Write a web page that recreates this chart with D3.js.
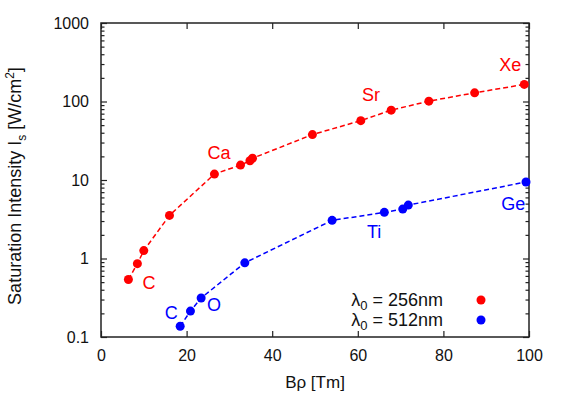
<!DOCTYPE html>
<html>
<head>
<meta charset="utf-8">
<script src="https://cdn.jsdelivr.net/npm/d3@7"></script>
<style>
  body { margin: 0; background: #fff; }
  text { font-family: "Liberation Sans", Arial, sans-serif; }
</style>
</head>
<body>
<div id="chart"></div>
<script>
// Chart data
var redX = [6.4, 8.5, 10.0, 16.0, 26.5, 32.6, 34.8, 35.4, 49.4, 60.7, 67.8, 76.6, 87.3, 98.9];
var redY = [0.54, 0.86, 1.26, 3.54, 11.9, 15.5, 17.6, 18.9, 37.9, 57, 77.6, 101, 129, 165];
var blueX = [18.5, 20.9, 23.4, 33.6, 54.0, 66.2, 70.5, 71.8, 99.3];
var blueY = [0.137, 0.214, 0.314, 0.88, 3.06, 3.87, 4.26, 4.79, 9.43];

var redLabels = [{t: "C", x: 11.2, y: 0.484}, {t: "Ca", x: 27.6, y: 22}, {t: "Sr", x: 63.1, y: 122}, {t: "Xe", x: 95.6, y: 295}];
var blueLabels = [{t: "C", x: 16.4, y: 0.2}, {t: "O", x: 26.4, y: 0.253}, {t: "Ti", x: 63.8, y: 2.17}, {t: "Ge", x: 96.3, y: 4.94}];

var xTicks = [0, 20, 40, 60, 80, 100];
var yTicks = [0.1, 1, 10, 100, 1000];
var yTickLabels = ["0.1", "1", "10", "100", "1000"];

var svgWidth = 562, svgHeight = 395;
var margin = {top: 23, right: 33, bottom: 58, left: 101};
var chartWidth = svgWidth - margin.left - margin.right;
var chartHeight = svgHeight - margin.top - margin.bottom;

var svg = d3.select("#chart").append("svg")
  .attr("width", svgWidth)
  .attr("height", svgHeight);

var g = svg.append("g")
  .attr("transform", `translate(${margin.left}, ${margin.top})`);

var x = d3.scaleLinear().domain([0, 100]).range([0, chartWidth]);
var y = d3.scaleLog().domain([0.1, 1000]).range([chartHeight, 0]);

// minor log ticks
var minor = [];
[0.1, 1, 10, 100].forEach(function(d) {
  for (var k = 2; k <= 9; k++) minor.push(d * k);
});

function styleAxis(sel) {
  sel.select(".domain").remove();
  sel.selectAll("line").attr("stroke", "#222").attr("stroke-width", 1.2);
  sel.selectAll("text").attr("font-size", "16px").attr("fill", "#111")
    .style("font-family", "'Liberation Sans', Arial, sans-serif");
}

// bottom axis (ticks inward)
g.append("g").attr("transform", `translate(0, ${chartHeight})`)
  .call(d3.axisBottom(x).tickValues(xTicks).tickSizeInner(-6).tickSizeOuter(0).tickPadding(13).tickFormat(d3.format("d")))
  .call(styleAxis);
// top axis
g.append("g")
  .call(d3.axisTop(x).tickValues(xTicks).tickSizeInner(-6).tickSizeOuter(0).tickFormat(""))
  .call(styleAxis);
// left axis
g.append("g")
  .call(d3.axisLeft(y).tickValues(yTicks).tickSizeInner(-6).tickSizeOuter(0).tickPadding(12)
    .tickFormat(function(d, i) { return yTickLabels[i]; }))
  .call(styleAxis);
g.append("g")
  .call(d3.axisLeft(y).tickValues(minor).tickSizeInner(-3.5).tickSizeOuter(0).tickFormat(""))
  .call(styleAxis);
// right axis
g.append("g").attr("transform", `translate(${chartWidth}, 0)`)
  .call(d3.axisRight(y).tickValues(yTicks).tickSizeInner(-6).tickSizeOuter(0).tickFormat(""))
  .call(styleAxis);
g.append("g").attr("transform", `translate(${chartWidth}, 0)`)
  .call(d3.axisRight(y).tickValues(minor).tickSizeInner(-3.5).tickSizeOuter(0).tickFormat(""))
  .call(styleAxis);

// frame
g.append("rect")
  .attr("width", chartWidth).attr("height", chartHeight)
  .attr("fill", "none").attr("stroke", "#222").attr("stroke-width", 1.5);

var line = d3.line().x(d => x(d[0])).y(d => y(d[1]));

function drawSeries(xs, ys, color) {
  var pts = xs.map((v, i) => [v, ys[i]]);
  g.append("path").datum(pts)
    .attr("d", line)
    .attr("fill", "none")
    .attr("stroke", color)
    .attr("stroke-width", 1.5)
    .attr("stroke-dasharray", "5,3");
  g.selectAll(null).data(pts).enter().append("circle")
    .attr("cx", d => x(d[0]))
    .attr("cy", d => y(d[1]))
    .attr("r", 4.5)
    .attr("fill", color);
}
drawSeries(redX, redY, "#ff0000");
drawSeries(blueX, blueY, "#0000ff");

function drawLabels(labels, color) {
  g.selectAll(null).data(labels).enter().append("text")
    .attr("x", d => x(d.x))
    .attr("y", d => y(d.y))
    .attr("text-anchor", "middle")
    .attr("dominant-baseline", "central")
    .attr("font-size", "18px")
    .attr("fill", color)
    .text(d => d.t);
}
drawLabels(redLabels, "#ff0000");
drawLabels(blueLabels, "#0000ff");

// legend
var legend = [{w: "256", c: "#ff0000", yy: 300}, {w: "512", c: "#0000ff", yy: 320}];
legend.forEach(function(l) {
  var t = svg.append("text")
    .attr("x", 443).attr("y", l.yy + 6)
    .attr("text-anchor", "end")
    .attr("font-size", "18px")
    .attr("fill", "#111");
  t.append("tspan").text("λ");
  t.append("tspan").attr("font-size", "13px").attr("dy", 4).text("0");
  t.append("tspan").attr("dy", -4).text(" = " + l.w + "nm");
  svg.append("circle").attr("cx", 481).attr("cy", l.yy).attr("r", 4.5).attr("fill", l.c);
});

// axis titles
svg.append("text")
  .attr("x", margin.left + chartWidth / 2).attr("y", 388)
  .attr("text-anchor", "middle")
  .attr("font-size", "17px").attr("fill", "#111")
  .text("Bρ [Tm]");

var yl = svg.append("text")
  .attr("transform", `translate(21, ${margin.top + chartHeight / 2 + 6}) rotate(-90)`)
  .attr("text-anchor", "middle")
  .attr("font-size", "18px").attr("fill", "#111");
yl.append("tspan").text("Saturation Intensity I");
yl.append("tspan").attr("font-size", "12px").attr("dy", 5).text("s");
yl.append("tspan").attr("dy", -5).text(" [W/cm");
yl.append("tspan").attr("font-size", "12px").attr("dy", -7).text("2");
yl.append("tspan").attr("dy", 7).text("]");
</script>
</body>
</html>
